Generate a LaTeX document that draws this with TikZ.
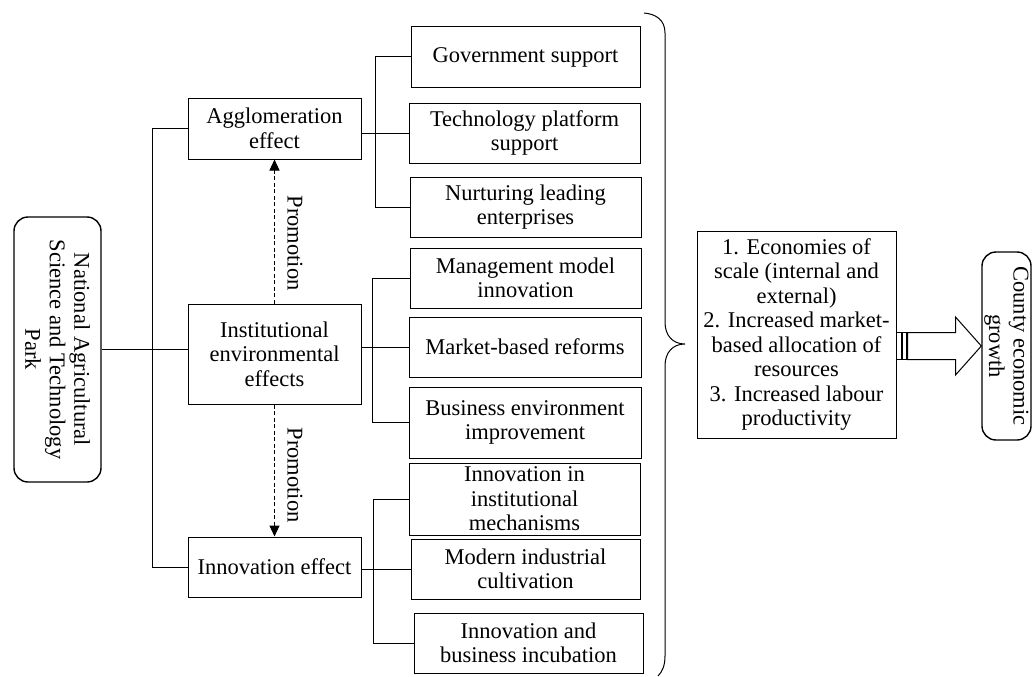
\documentclass[tikz,border=0pt]{standalone}
\usepackage{fontspec}
\setmainfont{Liberation Serif}
\usetikzlibrary{arrows.meta,calc}
\begin{document}
\begin{tikzpicture}[x=1pt,y=-1pt, line width=1pt,
  txt/.style={font=\fontsize{22.5}{24.5}\selectfont},
  box/.style={draw, rectangle, inner sep=0pt, align=center, txt},
  rbox/.style={box, rounded corners=14pt, line width=1.4pt, rotate=-90},
  promo/.style={dash pattern=on 4pt off 2.5pt, -{Triangle[length=11pt,width=10pt]}},
  plabel/.style={txt, rotate=-90, inner sep=0pt}
]
\useasboundingbox (0,0) rectangle (1033,677);

% left column
\node[rbox, minimum width=265pt, minimum height=87pt] (nat) at (57.5,349.5) {National Agricultural\\Science and Technology\\Park};

% middle column
\node[box, minimum width=173pt, minimum height=61pt] (agg) at (274.5,128.5) {Agglomeration\\effect};
\node[box, minimum width=173pt, minimum height=100pt] (inst) at (274.5,354) {Institutional\\environmental\\effects};
\node[box, minimum width=173pt, minimum height=60pt] (innov) at (274.5,567) {Innovation effect};

% right column
\node[box, minimum width=229pt, minimum height=60pt] (gov) at (525.5,57) {Government support};
\node[box, minimum width=231pt, minimum height=60pt] (tech) at (524.5,133) {Technology platform\\support};
\node[box, minimum width=231pt, minimum height=60pt] (nurt) at (525.5,207) {Nurturing leading\\enterprises};
\node[box, minimum width=231pt, minimum height=60pt] (mgmt) at (525.5,278) {Management model\\innovation};
\node[box, minimum width=232pt, minimum height=60pt] (mkt) at (525,347) {Market-based reforms};
\node[box, minimum width=232pt, minimum height=71pt] (bus) at (525,422.5) {Business environment\\improvement};
\node[box, minimum width=231pt, minimum height=72pt] (inin) at (524.5,499) {Innovation in\\institutional\\mechanisms};
\node[box, minimum width=229pt, minimum height=60pt] (mod) at (525.5,569) {Modern industrial\\cultivation};
\node[box, minimum width=229pt, minimum height=60pt] (inab) at (528.5,643) {Innovation and\\business incubation};

% result box
\node[box, minimum width=199pt, minimum height=207pt] (econ) at (796.5,334.5) {1. Economies of\\scale (internal and\\external)\\2. Increased market-\\based allocation of\\resources\\3. Increased labour\\productivity};
\node[rbox, minimum width=188pt, minimum height=49pt] (county) at (1006.5,346) {County economic\\growth};

% trunk from park
\draw (nat.north) -- (nat.north -| inst.west);
\draw (agg.west) -- ++(-35,0) |- (innov.west);

% promotion arrows
\draw[promo] (inst.north) -- (agg.south);
\draw[promo] (inst.south) -- (innov.north);
\node[plabel] (p1) at (295,243) {Promotion};
\node[plabel] (p2) at (295,475) {Promotion};

% branches
\draw (agg.east |- tech.west) -- (tech.west);
\draw (gov.west) -- ++(-35,0) |- (nurt.west);
\draw (inst.east |- mkt.west) -- (mkt.west);
\draw (mgmt.west) -- ++(-37,0) |- (bus.west);
\draw (innov.east |- mod.west) -- (mod.west);
\draw (inin.west) -- ++(-35,0) |- (inab.west);

% brace
\coordinate (btip) at (685,344);
\draw (644,13) .. controls (656,14) and (665,20) .. (665,33) -- (665,322)
  .. controls (665,336) and (673,344) .. (btip)
  .. controls (673,344) and (665,352) .. (665,366) -- (665,656)
  .. controls (665,666) and (662,672) .. (658,676);

% striped block arrow
\coordinate (s) at (econ.east |- county.south);
\draw[fill=white] ($(s)+(0,-13.5)$) rectangle ($(s)+(5,13.5)$);
\draw[fill=white] ($(s)+(6,-13.5)$) rectangle ($(s)+(10,13.5)$);
\draw[fill=white] ($(s)+(11,-13.5)$) -- ($(s)+(59,-13.5)$) -- ($(s)+(59,-29)$)
  -- (county.south) -- ($(s)+(59,29)$) -- ($(s)+(59,13.5)$) -- ($(s)+(11,13.5)$) -- cycle;
\end{tikzpicture}
\end{document}
